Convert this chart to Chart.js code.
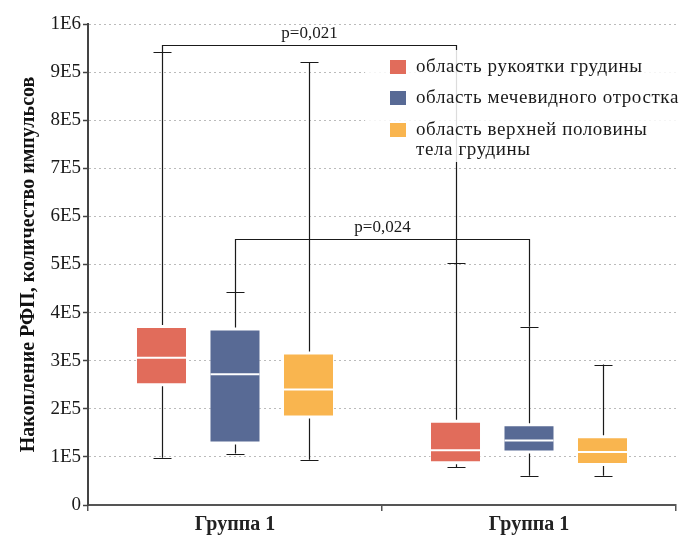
<!DOCTYPE html>
<html>
<head>
<meta charset="utf-8">
<script src="https://cdn.jsdelivr.net/npm/chart.js@4.4.1/dist/chart.umd.min.js"></script>
<style>
  html, body { margin: 0; padding: 0; background: #fff; }
  #wrap { width: 693px; height: 536px; }
</style>
</head>
<body>
<div id="wrap"><canvas id="myChart"></canvas></div>
<script>
// categories and tick labels
const groups = ["Группа 1", "Группа 1"];
const yTickLabels = ["0", "1E5", "2E5", "3E5", "4E5", "5E5", "6E5", "7E5", "8E5", "9E5", "1E6"];

// series: per group [min, q1, median, q3, max]
const seriesNames = ["область рукоятки грудины", "область мечевидного отростка", ["область верхней половины", "тела грудины"]];
const handle = [[98000, 251000, 306000, 370000, 941000], [79000, 89000, 114000, 173000, 503000]];
const xiphoid = [[107000, 130000, 272000, 365000, 442000], [61000, 111000, 134000, 166000, 371000]];
const body = [[94000, 184000, 240000, 315000, 921000], [61000, 85000, 110000, 141000, 292000]];
const colors = ["#e16c5b", "#586a95", "#f9b54f"];

// significance brackets: [series, group] -> [series, group]
const brackets = [
    { from: [0, 0], to: [0, 1], y: 956000, label: "p=0,021" },
    { from: [1, 0], to: [1, 1], y: 554000, label: "p=0,024" }
];

const allSeries = [handle, xiphoid, body];
const serif = "'Liberation Serif', 'DejaVu Serif', serif";

let boxPlugin = {
    id: "boxes",
    beforeDatasetsDraw(chart) {
        const ctx = chart.ctx, y = chart.scales.y;
        ctx.save();
        ctx.strokeStyle = "#1a1a1a";
        ctx.lineWidth = 1.2;
        allSeries.forEach((s, i) => {
            chart.getDatasetMeta(i).data.forEach((bar, j) => {
                const v = s[j], x = Math.round(bar.x) + 0.5;
                ctx.beginPath();
                // whiskers stop just short of the box
                ctx.moveTo(x, y.getPixelForValue(v[4]));
                ctx.lineTo(x, y.getPixelForValue(v[3]) - 2);
                ctx.moveTo(x, y.getPixelForValue(v[1]) + 2);
                ctx.lineTo(x, y.getPixelForValue(v[0]));
                [v[0], v[4]].forEach(w => {
                    const py = Math.round(y.getPixelForValue(w)) + 0.5;
                    ctx.moveTo(x - 9, py);
                    ctx.lineTo(x + 9, py);
                });
                ctx.stroke();
            });
        });
        ctx.restore();
    },
    afterDatasetsDraw(chart) {
        const ctx = chart.ctx, y = chart.scales.y, area = chart.chartArea;
        ctx.save();
        // medians
        ctx.strokeStyle = "#fff";
        ctx.lineWidth = 2;
        allSeries.forEach((s, i) => {
            chart.getDatasetMeta(i).data.forEach((bar, j) => {
                const py = y.getPixelForValue(s[j][2]);
                ctx.beginPath();
                ctx.moveTo(bar.x - bar.width / 2 + 1, py);
                ctx.lineTo(bar.x + bar.width / 2 - 1, py);
                ctx.stroke();
            });
        });
        // brackets
        ctx.strokeStyle = "#1a1a1a";
        ctx.lineWidth = 1.2;
        ctx.fillStyle = "#1a1a1a";
        ctx.font = "17px " + serif;
        ctx.textAlign = "center";
        ctx.textBaseline = "bottom";
        brackets.forEach(b => {
            const a = chart.getDatasetMeta(b.from[0]).data[b.from[1]];
            const c = chart.getDatasetMeta(b.to[0]).data[b.to[1]];
            const x1 = Math.round(a.x) + 0.5, x2 = Math.round(c.x) + 0.5;
            const py = Math.round(y.getPixelForValue(b.y)) + 0.5;
            ctx.beginPath();
            ctx.moveTo(x1, y.getPixelForValue(allSeries[b.from[0]][b.from[1]][4]));
            ctx.lineTo(x1, py);
            ctx.lineTo(x2, py);
            ctx.lineTo(x2, y.getPixelForValue(allSeries[b.to[0]][b.to[1]][4]));
            ctx.stroke();
            ctx.fillText(b.label, (x1 + x2) / 2, py - 3);
        });
        // legend
        const lx = area.right - 286, ly = area.top + 26;
        ctx.fillStyle = "rgba(255,255,255,0.85)";
        ctx.fillRect(lx - 25, ly, area.right - lx + 25, 112);
        ctx.font = "19px " + serif;
        ctx.letterSpacing = "0.6px";
        ctx.textAlign = "left";
        ctx.textBaseline = "middle";
        const rows = [ly + 17, ly + 48, ly + 80];
        seriesNames.forEach((name, i) => {
            ctx.fillStyle = colors[i];
            ctx.fillRect(lx, rows[i] - 7, 16, 14);
            ctx.fillStyle = "#1a1a1a";
            const lines = Array.isArray(name) ? name : [name];
            lines.forEach((t, k) => ctx.fillText(t, lx + 26, rows[i] + k * 20));
        });
        ctx.restore();
    }
};

let myChart = document.getElementById("myChart").getContext("2d");
let boxChart = new Chart(myChart, {
    type: "bar",
    data: {
        labels: groups,
        datasets: allSeries.map((s, i) => ({
            label: Array.isArray(seriesNames[i]) ? seriesNames[i].join(" ") : seriesNames[i],
            data: s.map(v => [v[1], v[3]]),
            backgroundColor: colors[i],
            borderColor: "rgba(255,255,255,0.55)",
            borderWidth: 1,
            borderSkipped: false,
            barPercentage: 0.694,
            categoryPercentage: 0.75
        }))
    },
    plugins: [boxPlugin],
    options: {
        responsive: true,
        maintainAspectRatio: false,
        animation: false,
        layout: { padding: { top: 24, right: 17, left: 0, bottom: 0 } },
        plugins: {
            legend: { display: false },
            tooltip: { enabled: false }
        },
        scales: {
            x: {
                offset: true,
                afterFit: s => { s.height = 31; },
                grid: { offset: true, drawOnChartArea: false, tickLength: 6, color: "#555", lineWidth: 1.5 },
                border: { color: "#555", width: 2 },
                ticks: { font: { family: serif, size: 20, weight: "bold" }, color: "#222", padding: 2 }
            },
            y: {
                min: 0,
                max: 1000000,
                afterFit: s => { s.width = 88; },
                grid: {
                    color: c => c.tick && c.tick.value === 0 ? "rgba(0,0,0,0)" : "#bbbbbb",
                    lineWidth: 1,
                    tickLength: 5,
                    tickColor: "#444",
                    tickWidth: 1.5,
                    tickBorderDash: []
                },
                border: { color: "#444", width: 2, dash: [2, 3] },
                ticks: {
                    stepSize: 100000,
                    padding: 2,
                    color: "#1a1a1a",
                    font: { family: serif, size: 19 },
                    callback: (v, i) => yTickLabels[i]
                },
                title: {
                    display: true,
                    text: "Накопление РФП, количество импульсов",
                    font: { family: serif, size: 20, weight: "bold" },
                    color: "#111",
                    padding: { top: 17, bottom: 0 }
                }
            }
        }
    }
});
</script>
</body>
</html>
